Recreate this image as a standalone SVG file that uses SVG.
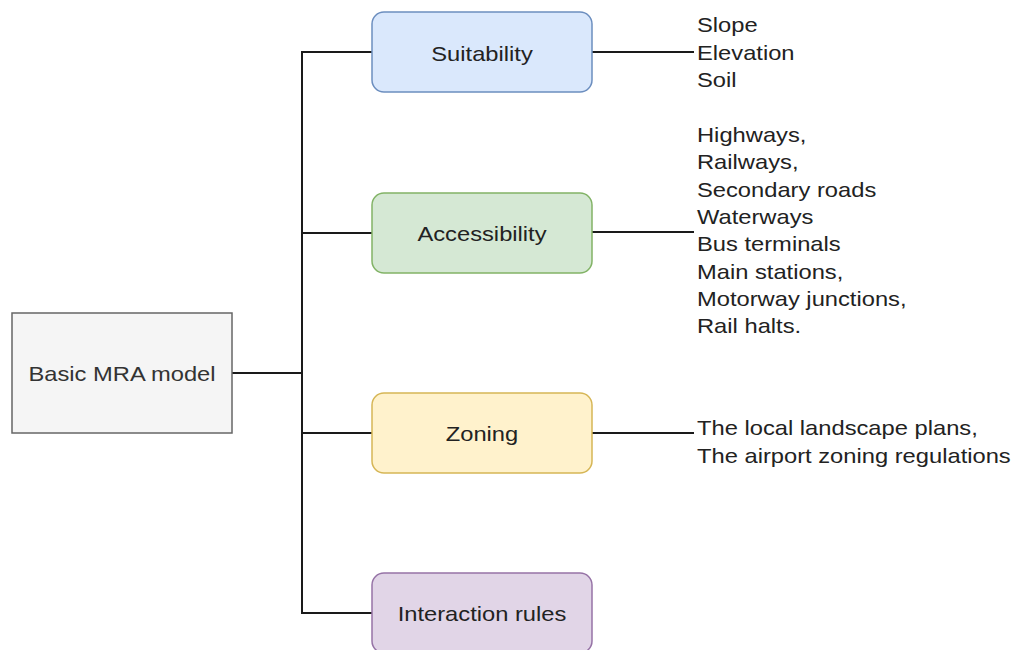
<svg xmlns="http://www.w3.org/2000/svg" width="1015" height="650" viewBox="0 0 1015 650">
  <style>
    .edge { fill: none; stroke: #1a1a1a; stroke-width: 2; }
    .box { stroke-width: 1.5; }
    .label { font-family: "Liberation Sans", Arial, sans-serif; font-size: 21px; fill: #222222; text-anchor: middle; }
    .list { font-family: "Liberation Sans", Arial, sans-serif; font-size: 21px; fill: #222222; }
  </style>
  <rect width="1015" height="650" fill="#ffffff"/>

  <!-- connectors -->
  <g id="connectors">
    <path class="edge" d="M232 373 H302"/>
    <path class="edge" d="M372 52 H302 V613 H372"/>
    <path class="edge" d="M302 233 H372"/>
    <path class="edge" d="M302 433 H372"/>
    <path class="edge" d="M592 52 H694"/>
    <path class="edge" d="M592 232 H694"/>
    <path class="edge" d="M592 433 H694"/>
  </g>

  <g id="basic-mra-model">
    <rect class="box" x="12" y="313" width="220" height="120" fill="#f5f5f5" stroke="#666666"/>
    <text class="label" transform="translate(122 381) scale(1.13 1)" style="fill:#333333">Basic MRA model</text>
  </g>

  <g id="suitability">
    <rect class="box" x="372" y="12" width="220" height="80" rx="12" fill="#dae8fc" stroke="#6c8ebf"/>
    <text class="label" transform="translate(482 60.5) scale(1.13 1)">Suitability</text>
  </g>

  <g id="accessibility">
    <rect class="box" x="372" y="193" width="220" height="80" rx="12" fill="#d5e8d4" stroke="#82b366"/>
    <text class="label" transform="translate(482 241) scale(1.13 1)">Accessibility</text>
  </g>

  <g id="zoning">
    <rect class="box" x="372" y="393" width="220" height="80" rx="12" fill="#fff2cc" stroke="#d6b656"/>
    <text class="label" transform="translate(482 441) scale(1.13 1)">Zoning</text>
  </g>

  <g id="interaction-rules">
    <rect class="box" x="372" y="573" width="220" height="80" rx="12" fill="#e1d5e7" stroke="#9673a6"/>
    <text class="label" transform="translate(482 621) scale(1.13 1)">Interaction rules</text>
  </g>

  <g id="suitability-factors">
    <text class="list" transform="translate(697 32) scale(1.13 1)">Slope</text>
    <text class="list" transform="translate(697 59.5) scale(1.13 1)">Elevation</text>
    <text class="list" transform="translate(697 87) scale(1.13 1)">Soil</text>
  </g>

  <g id="accessibility-factors">
    <text class="list" transform="translate(697 142) scale(1.13 1)">Highways,</text>
    <text class="list" transform="translate(697 169.3) scale(1.13 1)">Railways,</text>
    <text class="list" transform="translate(697 196.6) scale(1.13 1)">Secondary roads</text>
    <text class="list" transform="translate(697 223.9) scale(1.13 1)">Waterways</text>
    <text class="list" transform="translate(697 251.2) scale(1.13 1)">Bus terminals</text>
    <text class="list" transform="translate(697 278.5) scale(1.13 1)">Main stations,</text>
    <text class="list" transform="translate(697 305.8) scale(1.13 1)">Motorway junctions,</text>
    <text class="list" transform="translate(697 333) scale(1.13 1)">Rail halts.</text>
  </g>

  <g id="zoning-factors">
    <text class="list" transform="translate(697 435) scale(1.13 1)">The local landscape plans,</text>
    <text class="list" transform="translate(697 462.5) scale(1.13 1)">The airport zoning regulations</text>
  </g>
</svg>
